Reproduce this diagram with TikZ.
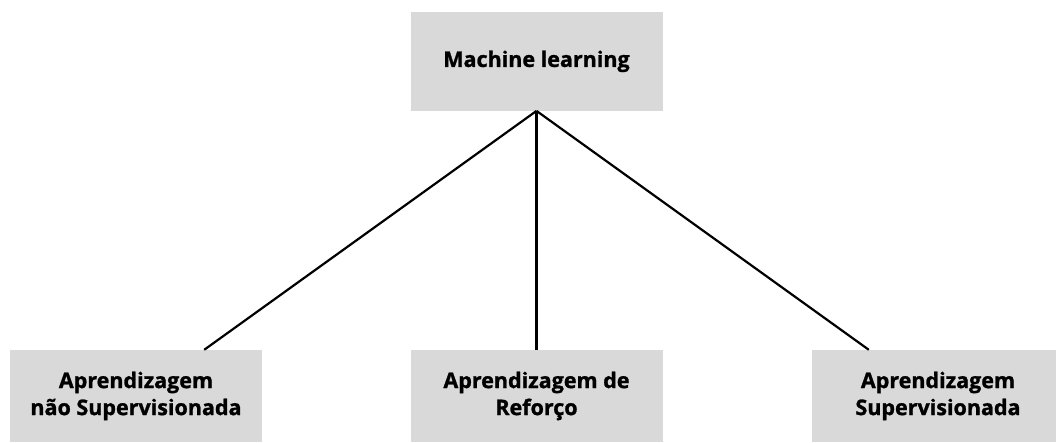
\documentclass[tikz,border=0pt]{standalone}
\usepackage{fontspec}
\setmainfont{Open Sans}[BoldFeatures={FakeBold=1.2}]
\definecolor{boxgray}{HTML}{D9D9D9}
\tikzset{
  catbox/.style={fill=boxgray, draw=none, minimum width=252pt, minimum height=92pt,
    inner sep=0pt, align=center, font=\bfseries\fontsize{21.5}{27}\selectfont},
  rootbox/.style={catbox, minimum height=98.7pt},
  link/.style={draw=black, line width=2.2pt}
}
\begin{document}
\begin{tikzpicture}[x=1pt, y=-1pt]
  \useasboundingbox (0,0) rectangle (1056,443);
  \node[rootbox] (ml) at (536.5,61.35) {Machine learning};
  \node[catbox] (unsup) at (136,396) {Aprendizagem\\não Supervisionada};
  \node[catbox] (reinf) at (536.5,396) {Aprendizagem de\\Reforço};
  \node[catbox] (sup) at (938,396) {Aprendizagem\\Supervisionada};
  \draw[link] (ml.south) -- ([xshift=-58pt]unsup.north east);
  \draw[link] (ml.south) -- (reinf.north);
  \draw[link] (ml.south) -- ([xshift=57pt]sup.north west);
\end{tikzpicture}
\end{document}
